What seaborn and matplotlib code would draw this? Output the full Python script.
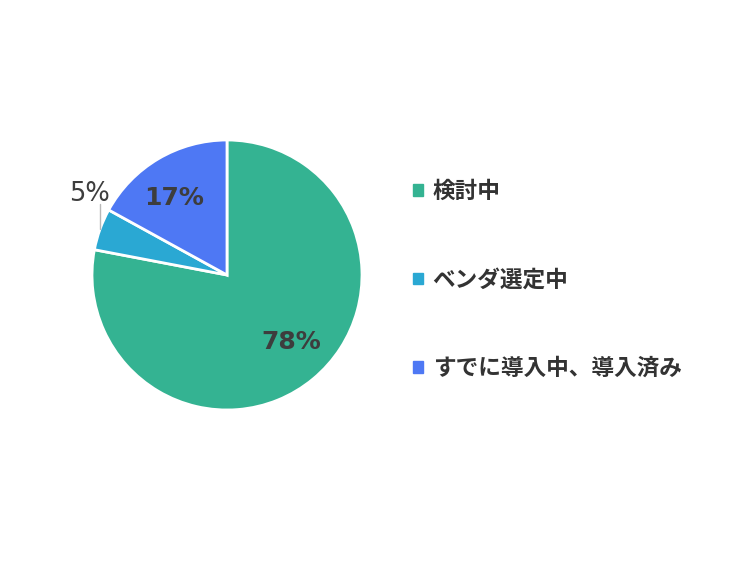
import numpy as np
import matplotlib
matplotlib.use('Agg')
import matplotlib.pyplot as plt
import seaborn as sns
from matplotlib.patches import Rectangle

sns.set_theme(style='white')
plt.rcParams['font.family'] = ['DejaVu Sans', 'Noto Sans CJK JP']

# data
labels = ['検討中', 'ベンダ選定中', 'すでに導入中、導入済み']
shares = [78, 5, 17]
pct_labels = ['78%', '5%', '17%']
colors = ['#34b392', '#2aa8d3', '#4e78f4']

fig = plt.figure(figsize=(7.5, 5.62), dpi=100)
# pie centre at (227, 275) px, radius 135 px
ax = fig.add_axes([92 / 750, (562 - 275 - 135) / 562, 270 / 750, 270 / 562])

wedges, _ = ax.pie(shares, colors=colors, startangle=90, counterclock=False,
                   wedgeprops=dict(edgecolor='white', linewidth=2))
ax.set_xlim(-1, 1)
ax.set_ylim(-1, 1)
ax.set_aspect('equal')
ax.axis('off')

px = 1 / 135  # one pixel in data units
for w, lab, val in zip(wedges, pct_labels, shares):
    mid = np.deg2rad((w.theta1 + w.theta2) / 2)
    if val >= 10:
        a = mid + np.deg2rad(4)
        ax.text(0.69 * np.cos(a), 0.69 * np.sin(a), lab, ha='center', va='center',
                fontsize=18, fontweight='bold', color='#3d3d3d')
    else:
        x0, y0 = np.cos(mid), np.sin(mid)
        y1 = y0 + 25 * px
        ax.plot([x0, x0], [y0, y1], color='#b8b8b8', lw=1, clip_on=False)
        ax.text(x0 - 11 * px, y1 + 3 * px, lab, ha='center', va='baseline',
                fontsize=18.5, color='#3d3d3d')

# legend on the right
handles = [Rectangle((0, 0), 1, 1, color=c) for c in colors]
leg = fig.legend(handles, labels, loc='center left', bbox_to_anchor=(413 / 750, 282 / 562),
                 frameon=False, handlelength=0.42, handleheight=0.42, handletextpad=0.45,
                 labelspacing=2.9, borderpad=0, borderaxespad=0,
                 prop=dict(family=['Noto Sans CJK JP', 'DejaVu Sans'], weight='bold', size=16.3))
for t in leg.get_texts():
    t.set_color('#333333')

fig.savefig('out.png', dpi=100, facecolor='white')
